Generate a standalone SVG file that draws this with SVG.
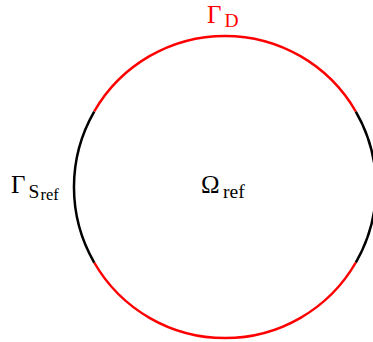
<svg xmlns="http://www.w3.org/2000/svg" width="373" height="342" viewBox="0 0 373 342">
<style>
.arc{fill:none;stroke-width:2.5}
.red{stroke:#ff0000}
.blk{stroke:#000000}
.lbl{font-family:"Liberation Serif","DejaVu Serif",serif;font-size:25px}
.sub{font-size:19.5px}
.subsub{font-size:16.5px}
</style>
<rect width="373" height="342" fill="#ffffff"/>
<g id="boundary">
<path id="gammaD-top" class="arc red" d="M94.2,111.5 A151,151 0 0 1 355.8,111.5"/>
<path id="gammaS-right" class="arc blk" d="M355.8,111.5 A151,151 0 0 1 355.8,262.5"/>
<path id="gammaD-bottom" class="arc red" d="M355.8,262.5 A151,151 0 0 1 94.2,262.5"/>
<path id="gammaS-left" class="arc blk" d="M94.2,262.5 A151,151 0 0 1 94.2,111.5"/>
</g>
<g id="label-gammaD">
<text class="lbl" fill="#ff0000" x="207" y="22.5">Γ<tspan class="sub" x="224.5" y="26.5">D</tspan></text>
</g>
<g id="label-gammaS">
<text class="lbl" fill="#000000" x="11" y="192.5">Γ<tspan class="sub" x="28.5" y="198">S</tspan><tspan class="subsub" x="40.5" y="200">ref</tspan></text>
</g>
<g id="label-omega">
<text class="lbl" fill="#000000" x="201" y="193">Ω<tspan class="sub" x="223" y="197.5">ref</tspan></text>
</g>
</svg>
